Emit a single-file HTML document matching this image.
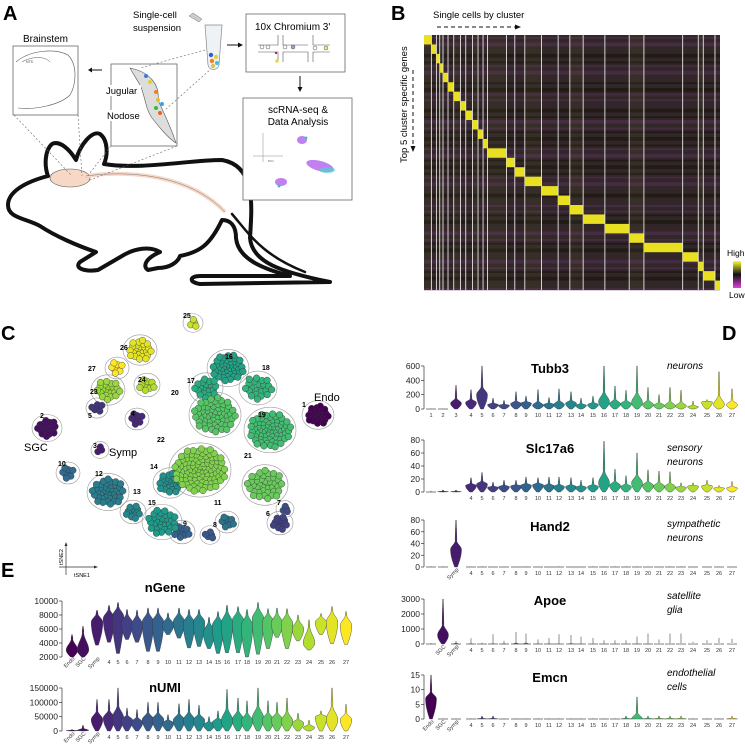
<!DOCTYPE html>
<html><head><meta charset="utf-8">
<style>
html,body{margin:0;padding:0;background:#fff;}
svg{display:block;font-family:"Liberation Sans",Arial,sans-serif;}
</style></head>
<body>
<svg id="fig" width="745" height="750" viewBox="0 0 745 750" xmlns="http://www.w3.org/2000/svg">
<text x="3" y="20" font-size="20" font-weight="bold">A</text>
<text x="391" y="20" font-size="20" font-weight="bold">B</text>
<text x="1" y="340" font-size="20" font-weight="bold">C</text>
<text x="722" y="340" font-size="20" font-weight="bold">D</text>
<text x="1" y="577" font-size="20" font-weight="bold">E</text>

<g id="panelA">
  <g fill="none" stroke="#111" stroke-width="4" stroke-linejoin="round" stroke-linecap="round">
    <path d="M8,205 C8,192 25,182 48,176 C44,165 45,150 52,144 C60,140 70,150 76,160 C80,145 92,130 100,134 C108,140 108,155 104,164 C140,170 190,160 222,160 C256,166 252,205 250,238 C252,262 280,272 330,282 L200,284 C188,282 190,276 200,276 L290,276 C260,268 238,258 236,238 C236,225 230,220 222,220 C210,245 200,252 180,256 C178,262 170,268 158,268 L148,270 C142,266 146,258 160,252 C150,246 135,248 122,256 L98,270 C84,272 74,268 80,262 L96,252 C78,246 55,236 40,226 C25,218 8,218 8,205 Z"/>
    <path d="M232,214 C250,235 262,255 305,272" stroke-width="2.5"/>
  </g>
  <ellipse cx="70" cy="178" rx="20" ry="9" fill="#f7d8c6" stroke="#555" stroke-width="0.6"/>
  <path d="M86,176 C130,170 190,175 225,212" fill="none" stroke="#f7d8c6" stroke-width="4"/>
  <path d="M86,176 C130,170 190,175 225,212" fill="none" stroke="#777" stroke-width="0.5"/>
  <text x="23" y="42" font-size="10">Brainstem</text>
  <rect x="13" y="46" width="65" height="69" fill="#fff" stroke="#666" stroke-width="0.8"/>
  <path d="M16,62 C30,50 55,48 68,55 C78,65 76,85 70,95 C60,105 35,110 18,108" fill="none" stroke="#555" stroke-width="0.6"/>
  <path d="M22,62 C32,56 45,56 50,62" fill="none" stroke="#555" stroke-width="0.5"/>
  <text x="26" y="63" font-size="3.5" fill="#444">NTS</text>
  <line x1="102" y1="70" x2="89" y2="70" stroke="#111" stroke-width="1"/>
  <path d="M88,70 l4,-2.5 v5 z" fill="#111"/>
  <rect x="111" y="64" width="66" height="82" fill="#fff" stroke="#666" stroke-width="0.8"/>
  <path d="M130,68 C150,72 160,85 158,100 C165,115 172,130 176,143 C168,138 160,128 152,118 C145,108 145,95 140,85 C136,78 132,72 130,68 Z" fill="#ddd" stroke="#555" stroke-width="0.6"/>
  <circle cx="146" cy="76" r="2" fill="#3a7bd5"/><circle cx="150" cy="82" r="2" fill="#e0d030"/>
  <circle cx="156" cy="92" r="2" fill="#f08020"/><circle cx="158" cy="100" r="2" fill="#e8c020"/>
  <circle cx="156" cy="108" r="2" fill="#30c030"/><circle cx="160" cy="113" r="2" fill="#f06020"/>
  <circle cx="162" cy="104" r="2" fill="#40a0e0"/>
  <rect x="105" y="85" width="36" height="11" fill="#fff"/>
  <text x="106" y="94" font-size="9.5">Jugular</text>
  <rect x="105" y="110" width="36" height="11" fill="#fff"/>
  <text x="107" y="119" font-size="9.5">Nodose</text>
  <g stroke="#666" stroke-width="0.6" stroke-dasharray="2,2" fill="none">
    <line x1="14" y1="115" x2="72" y2="176"/><line x1="78" y1="115" x2="82" y2="176"/>
    <line x1="111" y1="146" x2="86" y2="178"/><line x1="177" y1="146" x2="90" y2="180"/>
    <line x1="205" y1="50" x2="140" y2="68"/><line x1="212" y1="68" x2="165" y2="110"/>
  </g>
  <text x="133" y="18" font-size="9.5">Single-cell</text>
  <text x="133" y="31" font-size="9.5">suspension</text>
  <path d="M189,16 l4,-3 l9,6 l-3,3 z" fill="#ccc" stroke="#777" stroke-width="0.5"/>
  <path d="M205,25 h17 l-3,40 c-1,6 -10,6 -11,0 z" fill="#eef1f6" stroke="#888" stroke-width="0.7"/>
  <circle cx="211" cy="55" r="2.2" fill="#3060d0"/><circle cx="216" cy="57" r="2.2" fill="#e8d030"/>
  <circle cx="212" cy="61" r="2.2" fill="#f08020"/><circle cx="217" cy="63" r="2" fill="#40c0e0"/>
  <circle cx="213" cy="66" r="2" fill="#e0c040"/>
  <line x1="227" y1="45" x2="239" y2="45" stroke="#111" stroke-width="1"/><path d="M243,45 l-5,-2.5 v5 z" fill="#111"/>
  <rect x="246" y="14" width="99" height="58" fill="#fff" stroke="#666" stroke-width="0.8"/>
  <text x="255" y="30" font-size="10">10x Chromium 3'</text>
  <g stroke="#555" stroke-width="0.6" fill="none">
    <path d="M258,45 h20 v-10 M283,35 v10 h25 M258,52 h20 v10 M283,62 v-10 h25 v10 M313,35 v10 h17 M313,62 v-10 h17"/>
  </g>
  <circle cx="262" cy="47" r="2" fill="#fff" stroke="#555" stroke-width="0.5"/><circle cx="268" cy="47" r="2" fill="#fff" stroke="#555" stroke-width="0.5"/>
  <circle cx="285" cy="47" r="2" fill="#fff" stroke="#555" stroke-width="0.5"/><circle cx="293" cy="47" r="2" fill="#9ad" stroke="#555" stroke-width="0.5"/>
  <circle cx="277" cy="61" r="1.8" fill="#dd4"/><circle cx="276" cy="53" r="1.2" fill="#a33"/>
  <circle cx="315" cy="48" r="2" fill="#fff" stroke="#555" stroke-width="0.5"/><circle cx="326" cy="48" r="2" fill="#ee8" stroke="#555" stroke-width="0.5"/>
  <line x1="300" y1="76" x2="300" y2="88" stroke="#111" stroke-width="1"/><path d="M300,92 l-2.5,-5 h5 z" fill="#111"/>
  <rect x="243" y="98" width="109" height="102" fill="#fff" stroke="#666" stroke-width="0.8"/>
  <text x="298" y="113" font-size="10" text-anchor="middle">scRNA-seq &amp;</text>
  <text x="298" y="125" font-size="10" text-anchor="middle">Data Analysis</text>
  <line x1="253" y1="156" x2="283" y2="156" stroke="#888" stroke-width="0.5"/>
  <line x1="263" y1="133" x2="263" y2="162" stroke="#888" stroke-width="0.5"/>
  <text x="268" y="162" font-size="3" fill="#555">PC1</text>
  <ellipse cx="320" cy="166" rx="14" ry="5" fill="#c080f0" transform="rotate(15 320 166)"/>
  <ellipse cx="327" cy="170" rx="8" ry="3" fill="#50d0d0" opacity="0.7"/>
  <ellipse cx="281" cy="182" rx="6" ry="4" fill="#c080f0"/>
  <ellipse cx="302" cy="140" rx="5" ry="4" fill="#c080f0"/>
  <circle cx="306" cy="138" r="1.5" fill="#40c0c0"/><circle cx="279" cy="186" r="1.5" fill="#40c0c0"/>
</g>

<g id="panelB">
  <text x="433" y="18" font-size="9.5">Single cells by cluster</text>
  <line x1="437" y1="27" x2="516" y2="27" stroke="#111" stroke-width="1" stroke-dasharray="4,3"/>
  <path d="M521,27 l-6,-2.5 v5 z" fill="#111"/>
  <text transform="translate(407,163) rotate(-90)" font-size="9.5">Top 5 cluster specific genes</text>
  <line x1="413" y1="70" x2="413" y2="146" stroke="#111" stroke-width="1" stroke-dasharray="4,3"/>
  <path d="M413,152 l-2.5,-6 h5 z" fill="#111"/>
  <g id="heat"></g>
  <text x="727" y="256" font-size="8.5">High</text>
  <defs><linearGradient id="hl" x1="0" y1="0" x2="0" y2="1"><stop offset="0" stop-color="#ffff30"/><stop offset="0.5" stop-color="#111"/><stop offset="1" stop-color="#e040e0"/></linearGradient></defs>
  <rect x="733" y="261" width="8" height="27" fill="url(#hl)"/>
  <text x="729" y="298" font-size="8.5">Low</text>
</g>

<g id="panelC"></g>
<g id="panelD"></g>
<g id="panelE"></g>
</svg>

<script>
const heatCellsPerCluster = [7.4,5,3.3,3.3,5,5.7,6.7,5.3,6.7,5.6,5,4.4,19,8.3,10,16.7,16.6,11.7,13.3,21.7,24.3,14.7,38.7,15.6,5,11.7,5];
const heatGenesPerCluster = 5;

const tsneClusters = [1,2,3,4,5,6,7,8,9,10,11,12,13,14,15,16,17,18,19,20,21,22,23,24,25,26,27];
const tsneCenterX = [318,47,100,137,97,280,285,210,182,68,227,108,133,170,162,228,206,258,270,215,265,200,108,147,193,140,117];
const tsneCenterY = [415,428,450,419,408,523,509,535,532,473,522,492,512,483,522,368,388,388,430,415,485,470,390,385,323,350,368];
const tsneSpread  = [11,10,4,7,6,8,4,5,8,7,7,16,8,12,15,16,12,14,21,21,18,26,12,8,5,12,7];
const tsneCounts  = [25,20,3,8,6,12,4,5,10,8,9,40,12,25,30,45,20,22,70,60,40,100,22,10,4,25,8];
const tsneLabelX  = [302,40,93,131,88,266,277,213,183,58,214,95,133,150,148,225,187,262,258,171,244,157,90,138,183,120,88];
const tsneLabelY  = [407,418,448,416,418,516,505,527,526,466,505,476,494,469,505,359,383,370,417,395,458,442,394,382,318,350,371];

const dCategories = ["1","2","3","4","5","6","7","8","9","10","11","12","13","14","15","16","17","18","19","20","21","22","23","24","25","26","27"];
const tubb3Max  = [5,5,330,270,620,150,120,240,180,270,160,280,240,150,180,690,320,260,690,300,200,300,260,110,130,520,280];
const tubb3Mode = [1,1,80,90,200,60,50,70,80,50,60,60,80,50,60,100,70,70,90,60,50,40,40,30,100,60,60];
const slcMax    = [2,3,3,22,30,15,18,18,23,22,23,23,22,18,22,78,35,25,60,34,32,31,14,14,18,10,16];
const slcMode   = [0.5,0.5,0.5,10,12,7,8,9,10,11,9,8,8,7,8,14,10,8,14,10,9,8,7,9,9,6,6];
const hand2Max  = [1,1,90,0.5,1,0.5,0.5,0.5,1,0.5,0.5,1,0.5,0.5,1,1,1,1,1,1,0.5,1,1,0.5,0.5,0.5,0.5];
const hand2Mode = [0,0,30,0,0,0,0,0,0,0,0,0,0,0,0,0,0,0,0,0,0,0,0,0,0,0,0];
const apoeMax   = [60,3300,200,380,80,650,220,800,700,300,400,650,600,480,400,250,250,250,500,700,300,700,700,150,250,400,350];
const apoeMode  = [10,600,40,20,10,20,20,60,60,20,30,20,40,20,20,20,20,20,40,40,30,20,20,20,20,20,20];
const emcnMax   = [17,0.2,0.2,0.2,1,1,0.2,0.2,0.2,0.2,0.2,0.2,0.2,0.2,0.2,0.2,0.2,1,7.5,1,1,1,1,0.2,0.2,0.2,1];
const emcnMode  = [7,0,0,0,0,0,0,0,0,0,0,0,0,0,0,0,0,0,0,0,0,0,0,0,0,0,0];

const eCategories = ["Endo","SGC","Symp","4","5","6","7","8","9","10","11","12","13","14","15","16","17","18","19","20","21","22","23","24","25","26","27"];
const nGeneMin  = [2000,2000,3700,4100,2500,4500,4100,2800,2800,5200,4700,3300,3500,3200,2500,2600,2600,2000,2400,3200,4800,3200,4300,3000,5200,3900,3800];
const nGeneMode = [3000,3000,7000,7500,7800,6800,6600,7000,7000,6600,7000,6800,7000,5500,6500,6800,7200,6500,7500,7000,6800,6800,6000,4000,7000,7000,6500];
const nGeneMax  = [5200,6400,8700,9400,9800,8800,8700,9000,9000,8300,9000,8800,8800,7700,8500,9400,9200,8800,9800,8900,9000,8900,8000,7300,8200,9200,8500];
const nUmiMax   = [5000,20000,110000,110000,160000,80000,75000,100000,100000,57000,95000,110000,90000,50000,70000,145000,115000,105000,185000,105000,100000,115000,62000,38000,70000,160000,93000];
const nUmiMode  = [1500,2000,40000,45000,45000,38000,30000,40000,40000,28000,38000,38000,38000,22000,30000,35000,40000,35000,45000,38000,40000,35000,28000,12000,50000,40000,40000];

const NS = "http://www.w3.org/2000/svg";
function el(tag, parent){ const e=document.createElementNS(NS,tag); parent.appendChild(e); return e; }
const VIR = [[68,1,84],[72,40,120],[62,74,137],[49,104,142],[38,130,142],[31,158,137],[53,183,121],[109,205,89],[180,222,44],[253,231,37]];
function viridis(t){ t=Math.max(0,Math.min(1,t)); const p=t*(VIR.length-1); const i=Math.min(Math.floor(p),VIR.length-2); const f=p-i;
  const c=VIR[i].map((v,k)=>Math.round(v+(VIR[i+1][k]-v)*f)); return `rgb(${c[0]},${c[1]},${c[2]})`; }
function clusterColor(idx){ return viridis(idx/26); }

(function(){
  const g=document.getElementById('heat');
  const x0=424, y0=35, W=296, H=255;
  const totalCells=heatCellsPerCluster.reduce((a,b)=>a+b,0);
  const nRows=heatCellsPerCluster.length*heatGenesPerCluster;
  const rh=H/nRows;
  const bg=el('rect',g); bg.setAttribute('x',x0); bg.setAttribute('y',y0); bg.setAttribute('width',W); bg.setAttribute('height',H); bg.setAttribute('fill','#261c24');
  
  
  for(let r=0;r<nRows;r++){
    const t=(Math.sin(r*1.7)+Math.sin(r*0.43))*0.5;
    const row=el('rect',g); row.setAttribute('x',x0); row.setAttribute('y',y0+r*rh); row.setAttribute('width',W); row.setAttribute('height',rh+0.2);
    row.setAttribute('fill', t>0.55?'#3e2544':(t<-0.4?'#181315':'#2a1f29'));
    
    
  }
  let cx=x0;
  heatCellsPerCluster.forEach((n,k)=>{
    const w=n/totalCells*W;
    const sp=el('rect',g); sp.setAttribute('x',cx); sp.setAttribute('y',y0); sp.setAttribute('width',w); sp.setAttribute('height',H);
    sp.setAttribute('fill','#9a9030'); sp.setAttribute('opacity', (k%3===0)?0.13:0.07);
    
    
    const blk=el('rect',g);
    blk.setAttribute('x',cx); blk.setAttribute('y',y0+k*heatGenesPerCluster*rh);
    blk.setAttribute('width',w); blk.setAttribute('height',heatGenesPerCluster*rh);
    blk.setAttribute('fill','#e8e020');
    
    
    cx+=w;
    if(k<heatCellsPerCluster.length-1){
      const ln=el('line',g); ln.setAttribute('x1',cx); ln.setAttribute('x2',cx); ln.setAttribute('y1',y0); ln.setAttribute('y2',y0+H);
      ln.setAttribute('stroke','#e8e8e8'); ln.setAttribute('stroke-width','0.9');
      
      
    }
  });
})();

(function(){
  const g=document.getElementById('panelC');
  const hulls=el('g',g), pts=el('g',g), labs=el('g',g);
  tsneClusters.forEach((c,i)=>{
    const h=el('ellipse',hulls);
    h.setAttribute('cx',tsneCenterX[i]); h.setAttribute('cy',tsneCenterY[i]);
    h.setAttribute('rx',tsneSpread[i]+5); h.setAttribute('ry',tsneSpread[i]*0.85+5);
    h.setAttribute('fill','none'); h.setAttribute('stroke','#999'); h.setAttribute('stroke-width','0.6');
    
    
  });
  const GA=2.39996;
  tsneClusters.forEach((c,i)=>{
    const n=tsneCounts[i], col=clusterColor(i);
    for(let k=0;k<n;k++){
      const r=tsneSpread[i]*Math.sqrt((k+0.5)/n), a=k*GA;
      const p=el('circle',pts);
      p.setAttribute('cx',tsneCenterX[i]+r*Math.cos(a)); p.setAttribute('cy',tsneCenterY[i]+r*Math.sin(a)*0.85);
      p.setAttribute('r',3.3); p.setAttribute('fill',col); p.setAttribute('stroke','#333'); p.setAttribute('stroke-width','0.4');
      
      
    }
    const t=el('text',labs); t.textContent=String(c);
    t.setAttribute('x',tsneLabelX[i]); t.setAttribute('y',tsneLabelY[i]); t.setAttribute('font-size','7'); t.setAttribute('font-weight','bold');
    
    
  });
  const named=[["Endo",314,401,11],["SGC",24,451,11],["Symp",109,456,11]];
  named.forEach(d=>{ const t=el('text',labs); t.textContent=d[0]; t.setAttribute('x',d[1]); t.setAttribute('y',d[2]); t.setAttribute('font-size',d[3]);
    
     });
  const ax=el('path',g); ax.setAttribute('d','M66,575 V545 M59,567 H96'); ax.setAttribute('stroke','#333'); ax.setAttribute('stroke-width','0.7'); ax.setAttribute('fill','none');
  
  
  const ah=el('path',g); ah.setAttribute('d','M66,542 l-1.5,4 h3 z M98,567 l-4,-1.5 v3 z'); ah.setAttribute('fill','#333');
  const t1=el('text',g); t1.textContent='tSNE1'; t1.setAttribute('x',74); t1.setAttribute('y',577); t1.setAttribute('font-size','5.5');
  
  
  const t2=el('text',g); t2.textContent='tSNE2'; t2.setAttribute('transform','translate(63,565) rotate(-90)'); t2.setAttribute('font-size','5.5');
  
  
})();

function violinPath(cx, yScale, vmin, vmode, vmax, hw, neckFrac, domMax){
  vmax=Math.min(vmax,domMax); vmode=Math.min(vmode,vmax);
  const neck=vmode+(vmax-vmode)*neckFrac;
  function width(v){
    if(v<=vmode){ const f=(vmode-vmin)>0?(v-vmin)/(vmode-vmin):1; return hw*(0.25+0.75*Math.sin(f*Math.PI/2)); }
    if(v<=neck){ const f=(neck-vmode)>0?(v-vmode)/(neck-vmode):1; return hw*(1-0.88*(1-Math.cos(f*Math.PI))/2); }
    const f=(vmax-neck)>0?(v-neck)/(vmax-neck):1; return hw*0.12*(1-f)+0.25;
  }
  const N=24, R=[], L=[];
  for(let i=0;i<=N;i++){ const v=vmin+(vmax-vmin)*i/N; const w=width(v); R.push([cx+w,yScale(v)]); L.push([cx-w,yScale(v)]); }
  return 'M'+R.map(p=>p[0].toFixed(2)+','+p[1].toFixed(2)).join('L')+'L'+L.reverse().map(p=>p[0].toFixed(2)+','+p[1].toFixed(2)).join('L')+'Z';
}
function violinRow(g, cfg){
  const yScale=v=>cfg.y0-(Math.max(cfg.dmin,Math.min(v,cfg.dmax))-cfg.dmin)/(cfg.dmax-cfg.dmin)*(cfg.y0-cfg.y1);
  const ax=el('line',g); ax.setAttribute('x1',cfg.axisX); ax.setAttribute('x2',cfg.axisX); ax.setAttribute('y1',cfg.y0); ax.setAttribute('y2',cfg.y1);
  ax.setAttribute('stroke','#333'); ax.setAttribute('stroke-width','0.7');
  
  
  cfg.ticks.forEach(t=>{
    const y=yScale(t);
    const tk=el('line',g); tk.setAttribute('x1',cfg.axisX-3); tk.setAttribute('x2',cfg.axisX); tk.setAttribute('y1',y); tk.setAttribute('y2',y); tk.setAttribute('stroke','#333'); tk.setAttribute('stroke-width','0.7');
    const tx=el('text',g); tx.textContent=String(t); tx.setAttribute('x',cfg.axisX-4); tx.setAttribute('y',y+3); tx.setAttribute('font-size',cfg.tickFont); tx.setAttribute('text-anchor','end'); tx.setAttribute('fill','#222');
    
    
  });
  cfg.maxs.forEach((mx,i)=>{
    const cx=cfg.xs[i];
    const col=cfg.colors[i];
    if(mx-cfg.dmin<=(cfg.dmax-cfg.dmin)*0.03 && cfg.modes[i]<=cfg.dmin+(cfg.dmax-cfg.dmin)*0.02){
      const ln=el('line',g); ln.setAttribute('x1',cx-5); ln.setAttribute('x2',cx+5); ln.setAttribute('y1',cfg.y0); ln.setAttribute('y2',cfg.y0); ln.setAttribute('stroke','#444'); ln.setAttribute('stroke-width','0.7');
      
      
      const sp=el('line',g); sp.setAttribute('x1',cx); sp.setAttribute('x2',cx); sp.setAttribute('y1',cfg.y0); sp.setAttribute('y2',yScale(mx)); sp.setAttribute('stroke','#444'); sp.setAttribute('stroke-width','0.6');
      return;
    }
    if(cfg.spikeOnly && cfg.spikeOnly(i)){
      const ln=el('line',g); ln.setAttribute('x1',cx-5); ln.setAttribute('x2',cx+5); ln.setAttribute('y1',cfg.y0); ln.setAttribute('y2',cfg.y0); ln.setAttribute('stroke','#444'); ln.setAttribute('stroke-width','0.7');
      const sp=el('line',g); sp.setAttribute('x1',cx); sp.setAttribute('x2',cx); sp.setAttribute('y1',cfg.y0); sp.setAttribute('y2',yScale(mx)); sp.setAttribute('stroke','#444'); sp.setAttribute('stroke-width','0.6');
      
      
      const b=el('path',g); b.setAttribute('d',violinPath(cx,yScale,cfg.mins?cfg.mins[i]:cfg.dmin,cfg.modes[i],Math.max(cfg.modes[i]*2,cfg.dmin),2.5,0.3,cfg.dmax)); b.setAttribute('fill',col);
      return;
    }
    const p=el('path',g);
    p.setAttribute('d',violinPath(cx,yScale,cfg.mins?cfg.mins[i]:cfg.dmin,cfg.modes[i],mx,cfg.hw,cfg.neck,cfg.dmax));
    p.setAttribute('fill',col); p.setAttribute('stroke','#333'); p.setAttribute('stroke-width','0.4');
    
    
  });
  cfg.labels.forEach((lb,i)=>{
    if(!lb) return;
    const t=el('text',g); t.textContent=lb;
    if(cfg.rot && isNaN(+lb)){
      t.setAttribute('transform',`translate(${cfg.xs[i]+3},${cfg.labelY-2}) rotate(-45)`); t.setAttribute('text-anchor','end');
    } else { t.setAttribute('x',cfg.xs[i]); t.setAttribute('y',cfg.labelY+3); t.setAttribute('text-anchor','middle'); }
    t.setAttribute('font-size',cfg.catFont); t.setAttribute('fill','#333');
    
    
  });
  const tt=el('text',g); tt.textContent=cfg.title; tt.setAttribute('x',cfg.titleX); tt.setAttribute('y',cfg.titleY); tt.setAttribute('font-size','13'); tt.setAttribute('font-weight','bold'); tt.setAttribute('text-anchor','middle');
  
  
  (cfg.note||[]).forEach((line,k)=>{
    const n=el('text',g); n.textContent=line; n.setAttribute('x',cfg.noteX); n.setAttribute('y',cfg.noteY+k*14); n.setAttribute('font-size','10'); n.setAttribute('font-style','italic');
    
    
  });
}

const dX=[431,443,456,471,482,493,504,516,526,538,549,559,571,581,593,604,615,626,637,648,659,670,681,693,707,719,732];
const dColors=dCategories.map((c,i)=>clusterColor(i));
const gD=document.getElementById('panelD');
const dBase={axisX:424,xs:dX,colors:dColors,dmin:0,hw:5.5,neck:0.3,tickFont:8.5,catFont:5.5,titleX:550,noteX:667};
violinRow(el('g',gD),Object.assign({},dBase,{title:'Tubb3',titleY:373,y0:409,y1:366,dmax:600,ticks:[0,200,400,600],maxs:tubb3Max,modes:tubb3Mode,labels:dCategories,labelY:414,note:['neurons'],noteY:369}));
violinRow(el('g',gD),Object.assign({},dBase,{title:'Slc17a6',titleY:453,y0:492,y1:440,dmax:80,ticks:[0,20,40,60,80],maxs:slcMax,modes:slcMode,labels:["","",""].concat(dCategories.slice(3)),labelY:497,note:['sensory','neurons'],noteY:451}));
violinRow(el('g',gD),Object.assign({},dBase,{title:'Hand2',titleY:531,y0:567,y1:520,dmax:80,ticks:[0,20,40,60,80],maxs:hand2Max,modes:hand2Mode,labels:["","","Symp"].concat(dCategories.slice(3)),labelY:572,rot:true,note:['sympathetic','neurons'],noteY:527}));
violinRow(el('g',gD),Object.assign({},dBase,{title:'Apoe',titleY:605,y0:644,y1:599,dmax:3000,ticks:[0,1000,2000,3000],maxs:apoeMax,modes:apoeMode,labels:["","SGC","Symp"].concat(dCategories.slice(3)),labelY:649,rot:true,spikeOnly:i=>i!==1,note:['satellite','glia'],noteY:599}));
violinRow(el('g',gD),Object.assign({},dBase,{title:'Emcn',titleY:682,y0:719,y1:675,dmax:15,ticks:[0,5,10,15],maxs:emcnMax,modes:emcnMode,labels:["Endo","SGC","Symp"].concat(dCategories.slice(3)),labelY:724,rot:true,note:['endothelial','cells'],noteY:676}));

const eX=[72,83,97,109,118,127,137,148,158,168,179,189,199,209,218,227,238,247,258,268,277,287,298,309,321,332,346];
const eColors=eCategories.map((c,i)=>clusterColor(i));
const gE=document.getElementById('panelE');
const eBase={axisX:62,xs:eX,colors:eColors,hw:5.8,tickFont:8.5,catFont:5.5,rot:true,titleX:165};
violinRow(el('g',gE),Object.assign({},eBase,{title:'nGene',titleY:592,y0:657,y1:601,dmin:2000,dmax:10000,ticks:[2000,4000,6000,8000,10000],mins:nGeneMin,maxs:nGeneMax,modes:nGeneMode,neck:0.75,labels:eCategories,labelY:661}));
violinRow(el('g',gE),Object.assign({},eBase,{title:'nUMI',titleY:692,y0:731,y1:688,dmin:0,dmax:150000,ticks:[0,50000,100000,150000],maxs:nUmiMax,modes:nUmiMode,neck:0.45,labels:eCategories,labelY:736}));
</script>
</body></html>
